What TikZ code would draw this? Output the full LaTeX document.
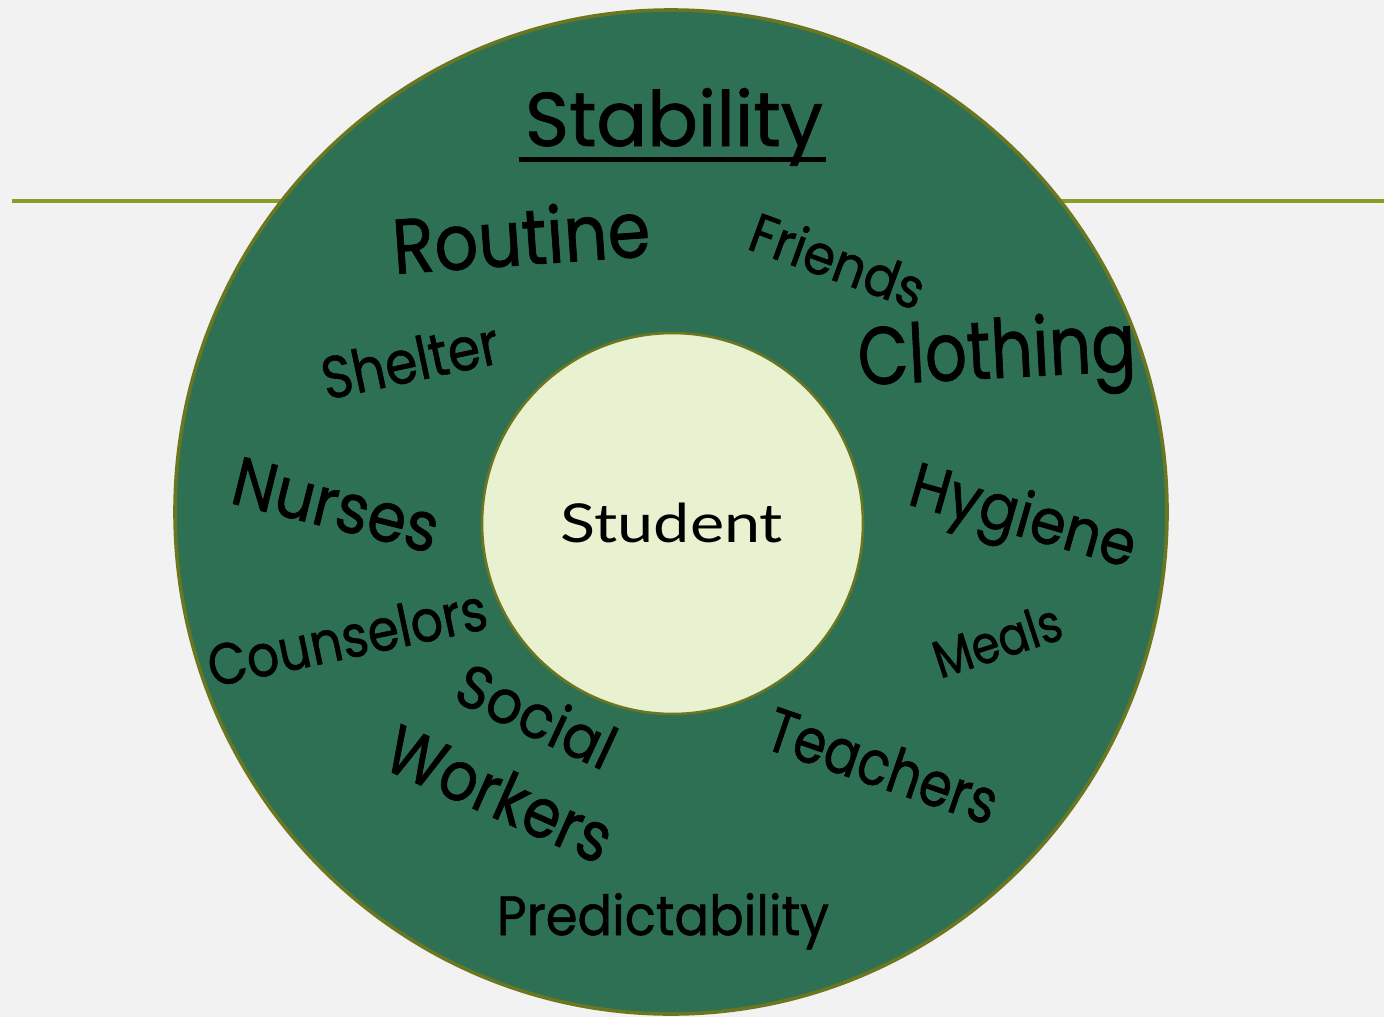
\documentclass[tikz,border=0pt]{standalone}
\usepackage{fontspec}
\usepackage{graphicx}
\setmainfont{Poppins}[FakeBold=1.0]
\newfontfamily\studfont{Lato}
\definecolor{bgc}{RGB}{242,242,242}
\definecolor{outerc}{RGB}{46,112,84}
\definecolor{borderc}{RGB}{107,118,32}
\definecolor{innerc}{RGB}{232,241,208}
\definecolor{linec}{RGB}{138,156,42}
\newcommand{\fitword}[3]{\resizebox{#1}{#2}{#3}}
\begin{document}
\begin{tikzpicture}[x=0.5pt,y=-0.5pt,
  word/.style={inner sep=0pt, outer sep=0pt, text=black},
  ring/.style={fill=outerc, draw=borderc, line width=1.8pt},
  hub/.style={circle, minimum size=190.5pt, inner sep=0pt, fill=innerc, draw=borderc, line width=1.3pt},
  rule/.style={draw=linec, line width=1.6pt}]
\fill[bgc] (0,0) rectangle (1384,1017);
\useasboundingbox (0,0) rectangle (1384,1017);
\coordinate (lineL) at (12,201);
\coordinate (lineR) at (1384,201);
\draw[rule] (lineL) -- (lineR);
\coordinate (ctr) at (671,512);
\draw[ring] (ctr) ellipse [x radius=496, y radius=502];
\node[hub] (student) at (672.5,523.5) {};
\node[word, anchor=base] (studtext) at (672,542) {\studfont\fitword{111pt}{19.75pt}{Student}};
% top and bottom titles
\node[word, anchor=base] (stab) at (674,146) {\fitword{149pt}{29pt}{Stability}};
\coordinate (ulL) at (519,159.5);
\coordinate (ulR) at (826,159.5);
\draw[line width=2.5pt] (ulL) -- (ulR);
\node[word, anchor=base] (pred) at (663,935) {\fitword{166pt}{21pt}{Predictability}};
% ring words
\node[word, rotate=4] (routine) at (521,236) {\fitword{129pt}{29.5pt}{Routine}};
\node[word, rotate=-20] (friends) at (838,260) {\fitword{91pt}{21pt}{Friends}};
\node[word, rotate=3] (clothing) at (997,358) {\fitword{139pt}{31pt}{Clothing}};
\node[word, rotate=12] (shelter) at (410,360) {\fitword{90pt}{22pt}{Shelter}};
\node[word, rotate=-14] (nurses) at (336,505) {\fitword{105pt}{24pt}{Nurses}};
\node[word, rotate=-16] (hygiene) at (1022,521) {\fitword{116pt}{24pt}{Hygiene}};
\node[word, rotate=12] (counsel) at (347,637) {\fitword{142pt}{21.5pt}{Counselors}};
\node[word, rotate=18] (meals) at (997,640) {\fitword{66pt}{19.5pt}{Meals}};
\node[word, rotate=-25] (social) at (537,715) {\fitword{84pt}{23pt}{Social}};
\node[word, rotate=-24] (workers) at (500,793) {\fitword{120pt}{25.5pt}{Workers}};
\node[word, rotate=-19] (teachers) at (883,765) {\fitword{120pt}{23pt}{Teachers}};
\end{tikzpicture}
\end{document}
